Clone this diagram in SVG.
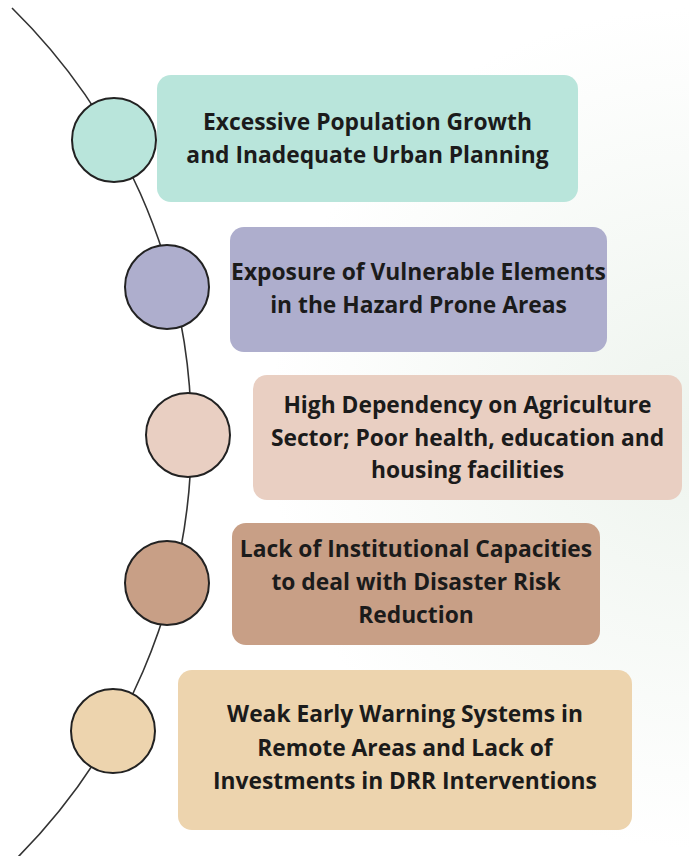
<svg xmlns="http://www.w3.org/2000/svg" width="689" height="856" viewBox="0 0 689 856">
  <defs>
    <radialGradient id="bgTint" cx="689" cy="428" r="420" gradientUnits="userSpaceOnUse">
      <stop offset="0" stop-color="#eef4ee"/>
      <stop offset="1" stop-color="#ffffff"/>
    </radialGradient>
    <style>
      .box { stroke: none; }
      .dot { stroke: #222222; stroke-width: 2; }
      .label { font-family: "Open Sans", "Noto Sans", "Liberation Sans", sans-serif; font-weight: 700; font-size: 22.8px; fill: #1b1b1b; text-anchor: middle; }
      .spine { fill: none; stroke: #333333; stroke-width: 1.6; }
      .c1 { fill: #b9e5db; }
      .c2 { fill: #aeaecd; }
      .c3 { fill: #e9cfc2; }
      .c4 { fill: #c89f86; }
      .c5 { fill: #edd4ae; }
    </style>
  </defs>

  <rect width="689" height="856" fill="url(#bgTint)"/>

  <!-- curved spine running behind the circles -->
  <g id="connectors">
    <path class="spine" d="M 12 8 A 599 599 0 0 1 17 858"/>
  </g>

  <g id="node-1">
    <circle class="dot c1" cx="114" cy="140" r="42"/>
    <rect class="box c1" x="157" y="75" width="421" height="127" rx="14"/>
    <text class="label" x="367.5" y="130">Excessive Population Growth</text>
    <text class="label" x="367.5" y="163">and Inadequate Urban Planning</text>
  </g>

  <g id="node-2">
    <circle class="dot c2" cx="167" cy="287" r="42"/>
    <rect class="box c2" x="230" y="227" width="377" height="125" rx="14"/>
    <text class="label" x="418.5" y="280">Exposure of Vulnerable Elements</text>
    <text class="label" x="418.5" y="313">in the Hazard Prone Areas</text>
  </g>

  <g id="node-3">
    <circle class="dot c3" cx="188" cy="435" r="42"/>
    <rect class="box c3" x="253" y="375" width="429" height="125" rx="14"/>
    <text class="label" x="467.5" y="413">High Dependency on Agriculture</text>
    <text class="label" x="467.5" y="446">Sector; Poor health, education and</text>
    <text class="label" x="467.5" y="478">housing facilities</text>
  </g>

  <g id="node-4">
    <circle class="dot c4" cx="167" cy="583" r="42"/>
    <rect class="box c4" x="232" y="523" width="368" height="122" rx="14"/>
    <text class="label" x="416" y="557">Lack of Institutional Capacities</text>
    <text class="label" x="416" y="590">to deal with Disaster Risk</text>
    <text class="label" x="416" y="623">Reduction</text>
  </g>

  <g id="node-5">
    <circle class="dot c5" cx="113" cy="731" r="42"/>
    <rect class="box c5" x="178" y="670" width="454" height="160" rx="14"/>
    <text class="label" x="405" y="722">Weak Early Warning Systems in</text>
    <text class="label" x="405" y="756">Remote Areas and Lack of</text>
    <text class="label" x="405" y="789">Investments in DRR Interventions</text>
  </g>
</svg>
